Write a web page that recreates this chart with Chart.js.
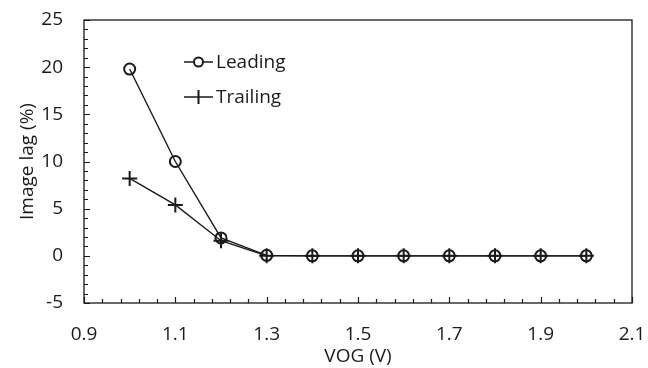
<!DOCTYPE html>
<html>
<head>
<meta charset="utf-8">
<script src="https://cdn.jsdelivr.net/npm/chart.js@4.4.0/dist/chart.umd.min.js"></script>
<style>
  html, body { margin: 0; padding: 0; background: #fff; }
  #wrap { width: 648px; height: 368px; }
</style>
</head>
<body>
<div id="wrap"><canvas id="chart"></canvas></div>
<script>
const vog = [1.0, 1.1, 1.2, 1.3, 1.4, 1.5, 1.6, 1.7, 1.8, 1.9, 2.0];
const leading = [19.8, 10.0, 1.9, 0.05, 0, 0, 0, 0, 0, 0, 0];
const trailing = [8.2, 5.4, 1.6, 0, 0, 0, 0, 0, 0, 0, 0];
const xTickValues = [0.9, 1.1, 1.3, 1.5, 1.7, 1.9, 2.1];
const xTickLabels = ["0.9", "1.1", "1.3", "1.5", "1.7", "1.9", "2.1"];

const FONT = "'Open Sans', 'Noto Sans', sans-serif";
const FSIZE = 19;
const INK = "#1a1a1a";

// frame, inner tick marks and the inside legend
const framePlugin = {
  id: "frame",
  afterDraw(chart) {
    const ctx = chart.ctx;
    const a = chart.chartArea;
    const xs = chart.scales.x;
    const ys = chart.scales.y;
    ctx.save();
    ctx.strokeStyle = INK;
    ctx.lineWidth = 1.3;
    ctx.strokeRect(a.left, a.top, a.right - a.left, a.bottom - a.top);

    ctx.lineWidth = 1.2;
    ctx.beginPath();
    for (let i = 0; i <= 30; i++) {
      const v = 0.9 + i * 0.04;
      const px = Math.round(xs.getPixelForValue(v)) + 0.5;
      const len = i % 5 === 0 ? 6 : 4;
      ctx.moveTo(px, a.bottom);
      ctx.lineTo(px, a.bottom - len);
    }
    for (let v = -5; v <= 25; v++) {
      const py = Math.round(ys.getPixelForValue(v)) + 0.5;
      const len = v % 5 === 0 ? 6 : 4;
      ctx.moveTo(a.left, py);
      ctx.lineTo(a.left + len, py);
    }
    ctx.stroke();

    // legend
    ctx.lineWidth = 1.5;
    ctx.font = FSIZE + "px " + FONT;
    ctx.fillStyle = INK;
    ctx.textBaseline = "middle";
    const items = [
      { label: chart.data.datasets[0].label, y: 62, style: "circle" },
      { label: chart.data.datasets[1].label, y: 97, style: "cross" }
    ];
    items.forEach(it => {
      ctx.beginPath();
      ctx.moveTo(184, it.y);
      ctx.lineTo(213, it.y);
      ctx.stroke();
      ctx.lineWidth = 2;
      ctx.beginPath();
      if (it.style === "circle") {
        ctx.arc(198.5, it.y, 4.5, 0, Math.PI * 2);
        ctx.fillStyle = "#fff";
        ctx.fill();
      } else {
        ctx.moveTo(198.5, it.y - 7);
        ctx.lineTo(198.5, it.y + 7);
      }
      ctx.stroke();
      ctx.lineWidth = 1.5;
      ctx.fillStyle = INK;
      ctx.fillText(it.label, 216, it.y + 1);
    });
    ctx.restore();
  }
};

new Chart(document.getElementById("chart"), {
  type: "scatter",
  data: {
    datasets: [
      {
        label: "Leading",
        data: vog.map((x, i) => ({ x: x, y: leading[i] })),
        showLine: true,
        borderColor: INK,
        borderWidth: 1.4,
        pointStyle: "circle",
        pointRadius: 5.5,
        pointBorderWidth: 2,
        pointBackgroundColor: "rgba(255,255,255,0)",
        pointBorderColor: INK
      },
      {
        label: "Trailing",
        data: vog.map((x, i) => ({ x: x, y: trailing[i] })),
        showLine: true,
        borderColor: INK,
        borderWidth: 1.4,
        pointStyle: "cross",
        pointRadius: 7.5,
        pointBorderWidth: 2,
        pointBorderColor: INK
      }
    ]
  },
  options: {
    responsive: true,
    maintainAspectRatio: false,
    animation: false,
    layout: { padding: { top: 20, right: 16, left: 0, bottom: 0 } },
    plugins: {
      legend: { display: false },
      tooltip: { enabled: false }
    },
    scales: {
      x: {
        type: "linear",
        min: 0.9,
        max: 2.1,
        afterBuildTicks(scale) {
          scale.ticks = xTickValues.map(v => ({ value: v }));
        },
        afterFit(scale) {
          scale.height = 65;
          scale.paddingLeft = 0;
          scale.paddingRight = 0;
        },
        grid: { display: false, drawTicks: false },
        border: { display: false },
        ticks: {
          color: INK,
          padding: 20,
          maxRotation: 0,
          font: { family: FONT, size: FSIZE },
          callback: (v, i) => xTickLabels[i]
        },
        title: {
          display: true,
          text: "VOG (V)",
          color: INK,
          padding: { top: 0, bottom: 0 },
          font: { family: FONT, size: FSIZE }
        }
      },
      y: {
        min: -5,
        max: 25,
        afterFit(scale) {
          scale.width = 84;
          scale.paddingTop = 0;
          scale.paddingBottom = 0;
        },
        grid: { display: false, drawTicks: false },
        border: { display: false },
        ticks: {
          stepSize: 5,
          color: INK,
          padding: 21,
          font: { family: FONT, size: FSIZE }
        },
        title: {
          display: true,
          text: "Image lag (%)",
          color: INK,
          padding: { top: 16, bottom: 0 },
          font: { family: FONT, size: FSIZE }
        }
      }
    }
  },
  plugins: [framePlugin]
});
</script>
</body>
</html>
